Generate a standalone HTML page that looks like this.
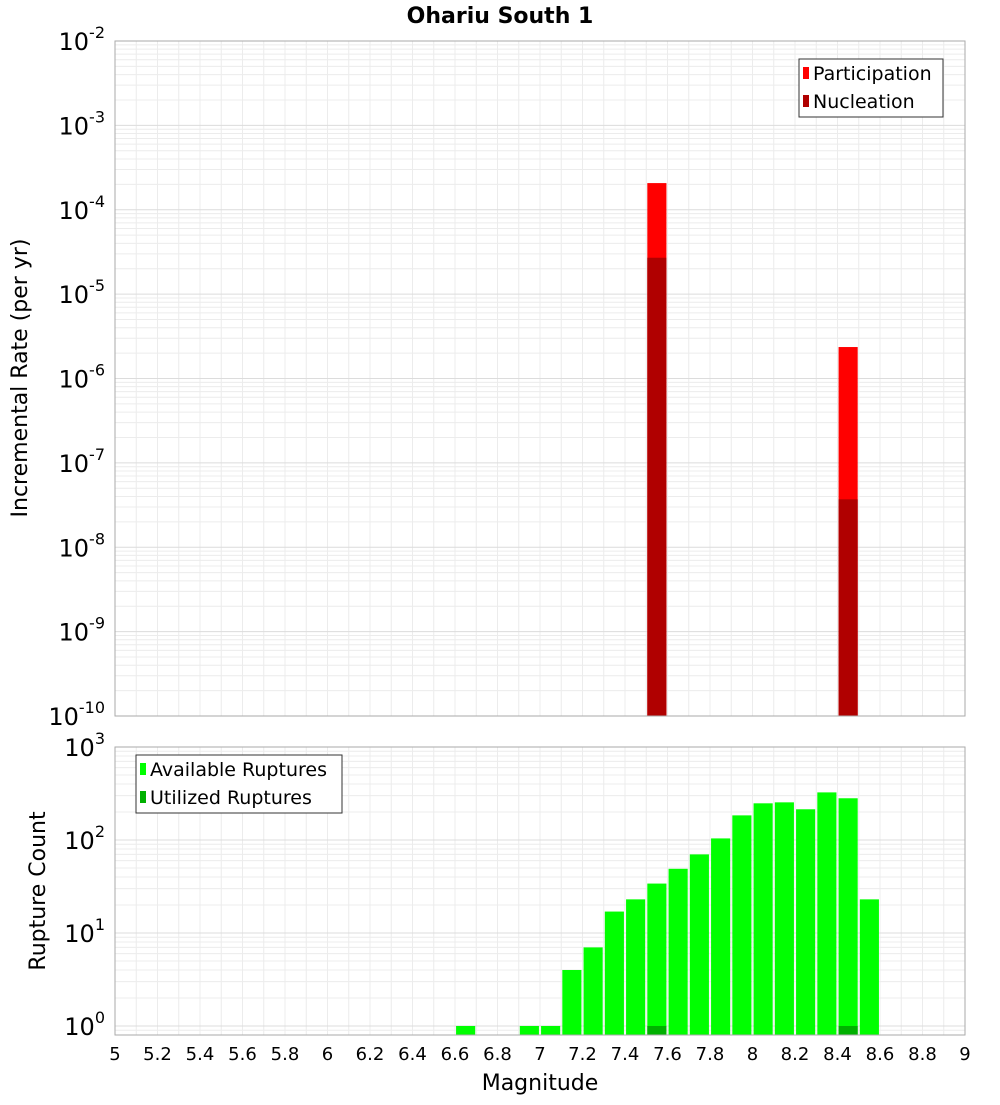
<!DOCTYPE html>
<html><head><meta charset="utf-8"><style>
body{margin:0;background:#fff;font-family:"Liberation Sans","DejaVu Sans",sans-serif}
</style></head><body>
<svg id="chart" width="1000" height="1100" xmlns="http://www.w3.org/2000/svg" font-family="DejaVu Sans, Liberation Sans, sans-serif"></svg>
<script>
const binCenters=[7.55,8.45];
const participation=[2.07e-4,2.36e-6];
const nucleation=[2.7e-5,3.7e-8];
const countBins=[6.65,6.95,7.05,7.15,7.25,7.35,7.45,7.55,7.65,7.75,7.85,7.95,8.05,8.15,8.25,8.35,8.45,8.55];
const available=[1,1,1,4,7,17,23,34,49,70,104,184,248,254,214,325,281,23];
const utilizedBins=[7.55,8.45];
const utilized=[1,1];
const xTicks=[5,5.2,5.4,5.6,5.8,6,6.2,6.4,6.6,6.8,7,7.2,7.4,7.6,7.8,8,8.2,8.4,8.6,8.8,9];
const topExps=[-2,-3,-4,-5,-6,-7,-8,-9,-10];
const botExps=[3,2,1,0];

const svg=document.getElementById('chart');
const NS='http://www.w3.org/2000/svg';
function mk(tag,attrs,parent){const e=document.createElementNS(NS,tag);for(const k in attrs)e.setAttribute(k,attrs[k]);(parent||svg).appendChild(e);return e;}
const X0=115,X1=965;
const xs=m=>X0+(m-5)/4*(X1-X0);
const T0=41,T1=716;
const yTop=v=>T0+(-2-Math.log10(v))/8*(T1-T0);
const B0=747,B1=1035,bMin=Math.log10(0.8);
const yBot=v=>B0+(3-Math.log10(v))/(3-bMin)*(B1-B0);

function grid(g,y0,y1,yfn,lo,hi){
  for(let m=5;m<=9.0001;m+=0.1){const x=xs(m);mk('line',{x1:x,x2:x,y1:y0,y2:y1,stroke:'#ececec','stroke-width':1},g);}
  for(let e=lo;e<hi;e++)for(let k=1;k<10;k++){const y=yfn(k*Math.pow(10,e));if(y>=y0&&y<=y1)mk('line',{x1:X0,x2:X1,y1:y,y2:y,stroke:k==1?'#dcdcdc':'#ececec','stroke-width':1},g);}
}
// title
const t=mk('text',{x:500,y:23,'text-anchor':'middle','font-size':22,'font-weight':'bold'});t.textContent='Ohariu South 1';


// top plot
const gt=mk('g',{});
grid(gt,T0,T1,yTop,-10,-2);
const w=0.09*(X1-X0)/4;
binCenters.forEach((m,i)=>{
  const r=mk('rect',{x:xs(m)-w/2,y:yTop(participation[i]),width:w,height:T1-yTop(participation[i]),fill:'#ff0000'},gt);
  
  const n=mk('rect',{x:xs(m)-w/2,y:yTop(nucleation[i]),width:w,height:T1-yTop(nucleation[i]),fill:'#b00000'},gt);
  
});
mk('rect',{x:X0,y:T0,width:X1-X0,height:T1-T0,fill:'none',stroke:'#aaa'},gt);
topExps.forEach(e=>{const y=yTop(Math.pow(10,e));
  const tx=mk('text',{x:105,y:y+9,'text-anchor':'end','font-size':24},gt);tx.innerHTML='10<tspan dy="-12" font-size="16">'+e+'</tspan>';
  });
const yl=mk('text',{x:27,y:378,'text-anchor':'middle','font-size':22,transform:'rotate(-90 27 378)'});yl.textContent='Incremental Rate (per yr)';

// legend top
const lg=mk('g',{});
mk('rect',{x:799,y:59,width:144,height:58,fill:'#fff',stroke:'#333'},lg);
mk('rect',{x:803,y:67,width:6,height:12,fill:'#ff0000'},lg);
mk('rect',{x:803,y:95,width:6,height:12,fill:'#b00000'},lg);
let lt=mk('text',{x:813,y:80,'font-size':19},lg);lt.textContent='Participation';
lt=mk('text',{x:813,y:108,'font-size':19},lg);lt.textContent='Nucleation';

// bottom plot
const gb=mk('g',{});
grid(gb,B0,B1,yBot,-1,3);
countBins.forEach((m,i)=>{const y=yBot(available[i]);
  const r=mk('rect',{x:xs(m)-w/2,y:y,width:w,height:B1-y,fill:'#00ff00'},gb);
  });
utilizedBins.forEach((m,i)=>{const y=yBot(utilized[i]);
  const r=mk('rect',{x:xs(m)-w/2,y:y,width:w,height:B1-y,fill:'#00b000'},gb);
  });
mk('rect',{x:X0,y:B0,width:X1-X0,height:B1-B0,fill:'none',stroke:'#aaa'},gb);
botExps.forEach(e=>{const y=yBot(Math.pow(10,e));
  const tx=mk('text',{x:105,y:y+9,'text-anchor':'end','font-size':24},gb);tx.innerHTML='10<tspan dy="-12" font-size="16">'+e+'</tspan>';
  });
const yl2=mk('text',{x:45,y:891,'text-anchor':'middle','font-size':22,transform:'rotate(-90 45 891)'});yl2.textContent='Rupture Count';

xTicks.forEach(m=>{const tx=mk('text',{x:xs(m),y:1060,'text-anchor':'middle','font-size':18},gb);tx.textContent=String(m);
  });
const xl=mk('text',{x:540,y:1090,'text-anchor':'middle','font-size':22});xl.textContent='Magnitude';

const lb=mk('g',{});
mk('rect',{x:136,y:755,width:206,height:58,fill:'#fff',stroke:'#333'},lb);
mk('rect',{x:140,y:763,width:6,height:12,fill:'#00ff00'},lb);
mk('rect',{x:140,y:791,width:6,height:12,fill:'#00b000'},lb);
lt=mk('text',{x:150,y:776,'font-size':19},lb);lt.textContent='Available Ruptures';
lt=mk('text',{x:150,y:804,'font-size':19},lb);lt.textContent='Utilized Ruptures';
</script>
</body></html>
